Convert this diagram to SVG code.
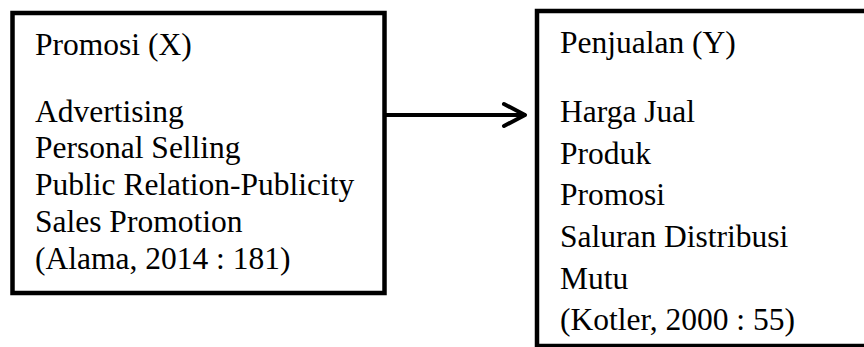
<svg xmlns="http://www.w3.org/2000/svg" width="864" height="347" viewBox="0 0 864 347">
<style>
.box{fill:#fff;stroke:#000;stroke-width:4.5}
.t{font-family:"Liberation Serif","Times New Roman",serif;font-size:31.5px;fill:#000}
.c{fill:none;stroke:#000;stroke-width:4;stroke-linecap:round;stroke-linejoin:round}
</style>
<rect width="864" height="347" fill="#fff"/>
<g id="promosi">
<rect class="box" x="12.5" y="13" width="372" height="280"/>
<text class="t" x="35" y="55">Promosi (X)</text>
<text class="t" x="35" y="122">Advertising</text>
<text class="t" x="35" y="158">Personal Selling</text>
<text class="t" x="35" y="195">Public Relation-Publicity</text>
<text class="t" x="35" y="232">Sales Promotion</text>
<text class="t" x="35" y="269">(Alama, 2014 : 181)</text>
</g>
<g id="penjualan">
<rect class="box" x="537" y="11" width="340" height="335"/>
<text class="t" x="560" y="53">Penjualan (Y)</text>
<text class="t" x="560" y="122">Harga Jual</text>
<text class="t" x="560" y="163.5">Produk</text>
<text class="t" x="560" y="205">Promosi</text>
<text class="t" x="560" y="247">Saluran Distribusi</text>
<text class="t" x="560" y="289">Mutu</text>
<text class="t" x="560" y="330">(Kotler, 2000 : 55)</text>
</g>
<g id="connectors">
<path class="c" d="M386 115 H524"/>
<path class="c" d="M504 104 L525 115 L504 126"/>
</g>
</svg>
